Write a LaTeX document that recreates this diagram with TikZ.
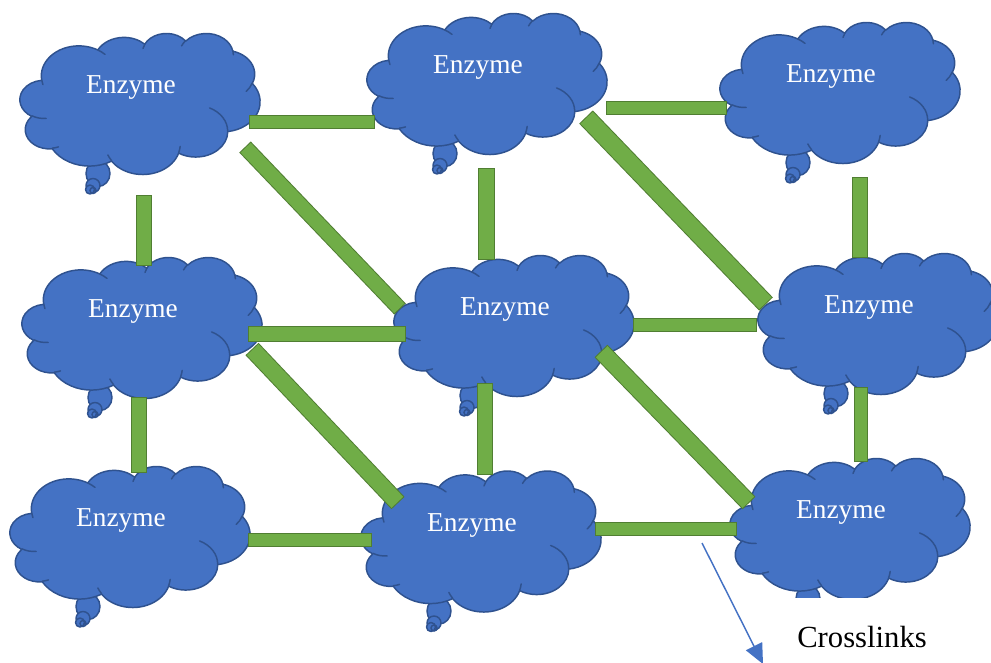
\documentclass[tikz,border=0pt]{standalone}
\usepackage{fontspec}
\setmainfont{Liberation Serif}
\usetikzlibrary{calc,arrows.meta}
\definecolor{cloudblue}{HTML}{4472C4}
\definecolor{cloudedge}{HTML}{2F528F}
\definecolor{bargreen}{HTML}{70AD47}
\definecolor{baredge}{HTML}{507E32}
\tikzset{
  cloudbody/.style={fill=cloudblue, draw=cloudedge, line width=1.1pt, line join=round},
  cloudline/.style={draw=cloudedge, line width=1.1pt, line cap=round},
  enzlabel/.style={text=white, font=\fontsize{20.5}{24}\selectfont, inner sep=0pt},
  barouter/.style={draw=baredge},
  barinner/.style={draw=bargreen},
  xlabelbox/.style={fill=white, font=\fontsize{23}{27}\selectfont, inner sep=0pt,
    minimum width=135pt, minimum height=57.75pt},
  pointer/.style={draw=cloudblue, line width=1.1pt, -{Triangle[length=15pt,width=13.5pt]}}
}
\newcommand\enzcloud[3]{%
  \coordinate (#1) at (#2,#3);
  \filldraw[cloudbody] ($(#1)+(-42,70)$) ellipse[x radius=12, y radius=13];
  \filldraw[cloudbody] ($(#1)+(-47,82)$) circle[radius=7];
  \filldraw[cloudbody] ($(#1)+(-50,86)$) circle[radius=4.5];
  \draw[cloudline] ($(#1)+(-47,87)$) circle[radius=3];
  \begin{scope}[shift={($(#1)+(-120,-70.5)$)}, x={(0.41667pt,0pt)}, y={(0pt,-0.24479pt)}]
    \filldraw[cloudbody] (39.00,143.70)
      arc[start angle=-187.75, end angle=-59.64, x radius=67.53, y radius=91.90]
      arc[start angle=-152.02, end angle=-45.46, x radius=53.33, y radius=72.67]
      arc[start angle=-153.50, end angle=-37.31, x radius=43.65, y radius=59.45]
      arc[start angle=-139.72, end angle=-10.21, x radius=48.57, y radius=65.95]
      arc[start angle=-74.77, end angle=23.21, x radius=53.33, y radius=72.73]
      arc[start angle=-37.52, end angle=81.86, x radius=67.75, y radius=92.20]
      arc[start angle=0.46, end angle=121.98, x radius=57.85, y radius=78.67]
      arc[start angle=16.84, end angle=146.23, x radius=67.52, y radius=92.15]
      arc[start angle=58.99, end angle=150.17, x radius=77.20, y radius=105.43]
      arc[start angle=-276.69, end angle=-136.88, x radius=43.60, y radius=59.18]
      arc[start angle=-239.64, end angle=-95.89, x radius=43.45, y radius=59.45]
      -- cycle;
    \draw[cloudline]
      (46.93,261.77) arc[start angle=85.55, end angle=120.36, x radius=43.45, y radius=59.45]
      (69.28,348.99) arc[start angle=68.24, end angle=83.31, x radius=43.60, y radius=59.18]
      (164.78,390.90) arc[start angle=146.23, end angle=158.47, x radius=67.52, y radius=92.15]
      (288.27,347.51) arc[start angle=4.74, end angle=16.84, x radius=67.52, y radius=92.15]
      (341.29,229.54) arc[start angle=-64.03, end angle=0.46, x radius=57.85, y radius=78.67]
      (417.98,153.54) arc[start angle=18.45, end angle=41.69, x radius=53.33, y radius=72.73]
      (383.24,54.26) arc[start angle=-10.21, end angle=0.82, x radius=48.57, y radius=65.95]
      (290.78,39.52) arc[start angle=-156.28, end angle=-139.72, x radius=48.57, y radius=65.95]
      (221.41,47.20) arc[start angle=-167.73, end angle=-153.50, x radius=43.65, y radius=59.45]
      (140.00,51.92) arc[start angle=-59.64, end angle=-45.74, x radius=67.53, y radius=91.90]
      (41.27,157.89) arc[start angle=163.20, end angle=172.25, x radius=67.53, y radius=91.90];
  \end{scope}
  \node[enzlabel] (t#1) at ($(#1)+(-9,-16)$) {Enzyme};
}
\newcommand\xlbar[3]{%
  \draw[barouter, line width={#3*0.75pt}] (#1) -- (#2);
  \draw[barinner, line width={(#3-2)*0.75pt}, shorten <=0.75pt, shorten >=0.75pt] (#1) -- (#2);
}
\begin{document}
\begin{tikzpicture}[x=0.75pt, y=-0.75pt]
  \useasboundingbox (0,0) rectangle (991,662);
  % clouds
  \enzcloud{c1}{140}{103.5}
  \enzcloud{c2}{487}{83.5}
  \enzcloud{c3}{840}{92.5}
  \enzcloud{c4}{142}{327.5}
  \enzcloud{c5}{514}{325.5}
  \enzcloud{c6}{878}{323.5}
  \enzcloud{c7}{130}{536.5}
  \enzcloud{c8}{481}{541}
  \enzcloud{c9}{850}{528.5}
  % crosslink bar ends
  \coordinate (b12a) at (249,122);   \coordinate (b12b) at (375,122);
  \coordinate (b23a) at (606,108);   \coordinate (b23b) at (727,108);
  \coordinate (b14a) at (143.5,195); \coordinate (b14b) at (143.5,266);
  \coordinate (b25a) at (486,168);   \coordinate (b25b) at (486,260);
  \coordinate (b36a) at (860,177);   \coordinate (b36b) at (860,258);
  \coordinate (b15a) at (245,147);   \coordinate (b15b) at (400,309);
  \coordinate (b26a) at (586,117);   \coordinate (b26b) at (766,304);
  \coordinate (b45a) at (248,333.5); \coordinate (b45b) at (406,333.5);
  \coordinate (b56a) at (633,325);   \coordinate (b56b) at (757,325);
  \coordinate (b47a) at (139,397);   \coordinate (b47b) at (139,473);
  \coordinate (b58a) at (485,383);   \coordinate (b58b) at (485,475);
  \coordinate (b69a) at (861,387);   \coordinate (b69b) at (861,462);
  \coordinate (b48a) at (252,349);   \coordinate (b48b) at (398,503);
  \coordinate (b59a) at (601,351);   \coordinate (b59b) at (749,503);
  \coordinate (b78a) at (248,540);   \coordinate (b78b) at (372,540);
  \coordinate (b89a) at (595,529);   \coordinate (b89b) at (737,529);
  \xlbar{b12a}{b12b}{14}
  \xlbar{b23a}{b23b}{14}
  \xlbar{b14a}{b14b}{16}
  \xlbar{b25a}{b25b}{17}
  \xlbar{b36a}{b36b}{16}
  \xlbar{b15a}{b15b}{16}
  \xlbar{b26a}{b26b}{19}
  \xlbar{b45a}{b45b}{16}
  \xlbar{b56a}{b56b}{14}
  \xlbar{b47a}{b47b}{16}
  \xlbar{b58a}{b58b}{16}
  \xlbar{b69a}{b69b}{14}
  \xlbar{b48a}{b48b}{18}
  \xlbar{b59a}{b59b}{18}
  \xlbar{b78a}{b78b}{14}
  \xlbar{b89a}{b89b}{14}
  % label
  \node[xlabelbox] (xl) at (862,636.7) {Crosslinks};
  \coordinate (ar0) at (702,543);
  \coordinate (ar1) at (763,664);
  \draw[pointer] (ar0) -- (ar1);
\end{tikzpicture}
\end{document}
